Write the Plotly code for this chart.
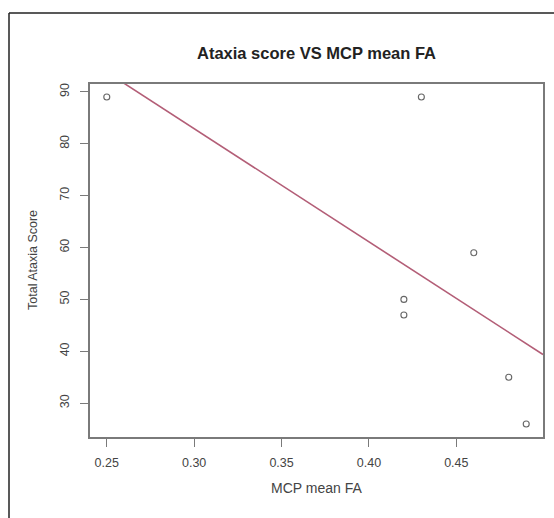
import numpy as np
import plotly.graph_objects as go

# Data
mcp_mean_fa = [0.25, 0.43, 0.46, 0.42, 0.42, 0.48, 0.49]
total_ataxia_score = [89, 89, 59, 50, 47, 35, 26]
x_ticks = [0.25, 0.30, 0.35, 0.40, 0.45]
x_tick_labels = ["0.25", "0.30", "0.35", "0.40", "0.45"]
y_ticks = [30, 40, 50, 60, 70, 80, 90]
y_tick_labels = ["30", "40", "50", "60", "70", "80", "90"]

x = np.array(mcp_mean_fa)
y = np.array(total_ataxia_score)

# R-style axis ranges (4% padding)
xs = x.max() - x.min()
ys = y.max() - y.min()
xr = [x.min() - 0.04 * xs, x.max() + 0.04 * xs]
yr = [y.min() - 0.04 * ys, y.max() + 0.04 * ys]

# Least squares fit (abline(lm(...)))
slope, intercept = np.polyfit(x, y, 1)
fit_x = np.array(xr)
fit_y = intercept + slope * fit_x

FONT = "Liberation Sans, Arial, Helvetica, sans-serif"
AXC = "#7a7a7a"

fig = go.Figure()
fig.add_trace(go.Scatter(
    x=x, y=y, mode="markers",
    marker=dict(symbol="circle-open", size=6, color="#666666", line=dict(width=1.1)),
    showlegend=False, hoverinfo="skip",
))
fig.add_trace(go.Scatter(
    x=fit_x, y=fit_y, mode="lines",
    line=dict(color="#b35e77", width=1.6),
    showlegend=False, hoverinfo="skip",
))

W, H = 554, 518
L, R, T, B = 90, 11, 84, 81
pw, ph = W - L - R, H - T - B

def px_x(p):
    return (p - L) / pw

def px_y(p):
    return (H - B - p) / ph

fig.update_layout(
    width=W, height=H,
    margin=dict(l=L, r=R, t=T, b=B, autoexpand=False),
    paper_bgcolor="white", plot_bgcolor="white",
    font=dict(family=FONT, color="#333333", size=12),
    xaxis=dict(
        range=xr, tickvals=x_ticks, ticktext=x_tick_labels,
        showgrid=False, zeroline=False,
        showline=True, linecolor=AXC, linewidth=1.5, mirror=True,
        ticks="outside", ticklen=8, tickcolor=AXC, tickwidth=1.2,
        ticklabelstandoff=5,
        tickfont=dict(size=12.5, color="#444444"),
    ),
    yaxis=dict(
        range=yr, tickvals=y_ticks, ticktext=y_tick_labels,
        showgrid=False, zeroline=False,
        showline=True, linecolor=AXC, linewidth=1.5, mirror=True,
        ticks="outside", ticklen=8, tickcolor=AXC, tickwidth=1.2,
        tickangle=-90, ticklabelstandoff=6,
        tickfont=dict(size=12.5, color="#444444"),
    ),
    annotations=[
        dict(text="<b>Ataxia score VS MCP mean FA</b>", xref="paper", yref="paper",
             x=0.5, y=px_y(53), xanchor="center", yanchor="middle", showarrow=False,
             font=dict(size=16.5, color="#222222", family=FONT)),
        dict(text="MCP mean FA", xref="paper", yref="paper",
             x=0.5, y=px_y(488), xanchor="center", yanchor="middle", showarrow=False,
             font=dict(size=14, color="#444444", family=FONT)),
        dict(text="Total Ataxia Score", xref="paper", yref="paper",
             x=px_x(33), y=px_y(260), xanchor="center", yanchor="middle", showarrow=False,
             textangle=-90, font=dict(size=12.5, color="#444444", family=FONT)),
    ],
    shapes=[
        dict(type="line", xref="paper", yref="paper",
             x0=px_x(9), y0=px_y(13), x1=px_x(560), y1=px_y(13),
             line=dict(color="#222222", width=1.5)),
        dict(type="line", xref="paper", yref="paper",
             x0=px_x(9), y0=px_y(13), x1=px_x(9), y1=px_y(525),
             line=dict(color="#222222", width=1.5)),
    ],
)

fig.write_html(
    "out.html",
    config={"displayModeBar": False},
    post_script="document.body.style.margin='0';document.body.style.overflow='hidden';",
)
